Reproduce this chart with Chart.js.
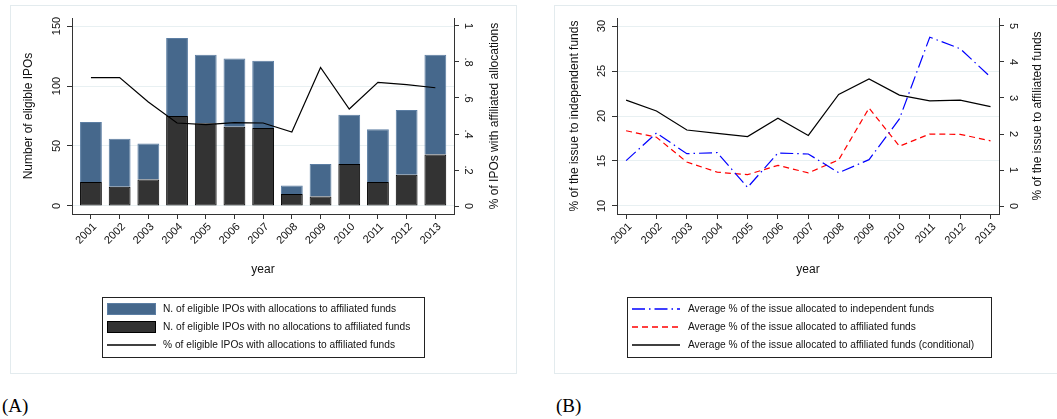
<!DOCTYPE html>
<html lang="en">
<head>
  <meta charset="UTF-8" />
  <title>Allocations of IPOs to affiliated funds</title>
  <script src="https://cdn.jsdelivr.net/npm/chart.js"></script>
  <style>
    body {
      margin: 0;
      background: #fff;
      width: 1057px;
      height: 419px;
      overflow: hidden;
      position: relative;
    }
    canvas { position: absolute; top: 0; }
    #chartA { left: 0; }
    #chartB { left: 530px; }
    .panel-tag {
      position: absolute;
      top: 395px;
      font-family: "Liberation Serif", "DejaVu Serif", serif;
      font-size: 19px;
      color: #000;
    }
  </style>
</head>
<body>
  <canvas id="chartA" width="530" height="380"></canvas>
  <canvas id="chartB" width="527" height="380"></canvas>
  <div class="panel-tag" style="left:2px">(A)</div>
  <div class="panel-tag" style="left:556px">(B)</div>

  <script>
    // data
    const years = [2001, 2002, 2003, 2004, 2005, 2006, 2007, 2008, 2009, 2010, 2011, 2012, 2013];

    // panel A
    const iposNoAlloc = [20, 16, 22, 75, 69, 66, 65, 10, 8, 35, 20, 26, 43];
    const iposWithAlloc = [50, 40, 30, 65, 57, 57, 56, 7, 27, 41, 44, 54, 83];
    const shareWithAlloc = [0.713, 0.713, 0.578, 0.461, 0.452, 0.463, 0.461, 0.411, 0.770, 0.539, 0.687, 0.674, 0.657];
    const ticksLeftA = [0, 50, 100, 150];
    const ticksRightA = [0, 0.2, 0.4, 0.6, 0.8, 1];
    const labelsRightA = ["0", ".2", ".4", ".6", ".8", "1"];

    // panel B
    const pctIndependent = [15.04, 18.11, 15.81, 15.93, 12.07, 15.89, 15.78, 13.70, 15.15, 19.67, 28.76, 27.48, 24.33];
    const pctAffiliated = [2.09, 1.91, 1.22, 0.94, 0.87, 1.13, 0.92, 1.28, 2.72, 1.66, 2.00, 1.99, 1.81];
    const pctAffiliatedCond = [2.94, 2.64, 2.11, 2.02, 1.93, 2.44, 1.96, 3.10, 3.53, 3.08, 2.92, 2.94, 2.76];
    const ticksLeftB = [10, 15, 20, 25, 30];
    const ticksRightB = [0, 1, 2, 3, 4, 5];

    const FONT = '"Liberation Sans", Arial, sans-serif';
    const AXIS = "#333";
    const GRID = "#e8f0f2";

    // line looks, shared by the plotted lines and their legend keys
    const LOOK = {
      share: { color: "#000000", dash: [] },
      indep: { color: "#0000ff", dash: [13, 4, 1.5, 4] },
      affil: { color: "#ff0000", dash: [6, 4] },
      cond: { color: "#000000", dash: [] }
    };

    const pts = vals => years.map((yr, i) => ({ x: yr, y: vals[i] }));

    function textAt(ctx, text, x, y, angle, align) {
      ctx.save();
      ctx.translate(x, y);
      ctx.rotate(angle);
      ctx.textAlign = align;
      ctx.textBaseline = "middle";
      ctx.fillText(text, 0, 0);
      ctx.restore();
    }

    // frame, rotated labels, titles and boxed legend (Stata look)
    const decor = {
      id: "decor",
      beforeDraw(chart, args, o) {
        const ctx = chart.ctx;
        ctx.save();
        ctx.fillStyle = "#fff";
        ctx.fillRect(0, 0, chart.width, chart.height);
        ctx.strokeStyle = "#e3ebee";
        ctx.lineWidth = 1;
        ctx.strokeRect(o.frame[0] + 0.5, o.frame[1] + 0.5, o.frame[2], o.frame[3]);
        ctx.restore();
      },
      afterDraw(chart, args, o) {
        const ctx = chart.ctx, s = chart.scales, ca = chart.chartArea;
        ctx.save();
        ctx.fillStyle = "#111";
        ctx.font = "11px " + FONT;
        o.leftTicks.forEach(v =>
          textAt(ctx, String(v), ca.left - 15, s.y.getPixelForValue(v), -Math.PI / 2, "center"));
        o.rightTicks.forEach((v, i) =>
          textAt(ctx, o.rightLabels[i], ca.right + 14, s.y2.getPixelForValue(v), Math.PI / 2, "center"));
        years.forEach(yr =>
          textAt(ctx, String(yr), s.x.getPixelForValue(yr) + 4, ca.bottom + 11, -Math.PI / 4, "right"));

        ctx.font = "12px " + FONT;
        const midY = (ca.top + ca.bottom) / 2;
        textAt(ctx, o.leftTitle, ca.left - o.leftTitleGap, midY, -Math.PI / 2, "center");
        textAt(ctx, o.rightTitle, ca.right + o.rightTitleGap, midY, -Math.PI / 2, "center");
        textAt(ctx, "year", (ca.left + ca.right) / 2, 270, 0, "center");

        // legend
        const L = o.legend;
        ctx.fillStyle = "#fff";
        ctx.fillRect(L.x, L.y, L.w, L.h);
        ctx.strokeStyle = "#222";
        ctx.lineWidth = 1;
        ctx.strokeRect(L.x + 0.5, L.y + 0.5, L.w, L.h);
        ctx.font = "10.2px " + FONT;
        L.order.forEach((di, row) => {
          const ds = chart.data.datasets[di];
          const y = L.rows[row];
          if (ds.look) {
            const lk = LOOK[ds.look];
            ctx.save();
            ctx.strokeStyle = lk.color;
            ctx.lineWidth = 1.4;
            ctx.setLineDash(lk.dash);
            ctx.beginPath();
            ctx.moveTo(L.s0, y);
            ctx.lineTo(L.s1, y);
            ctx.stroke();
            ctx.restore();
          } else {
            ctx.fillStyle = ds.backgroundColor;
            ctx.fillRect(L.s0, y - 6, L.s1 - L.s0, 12);
            ctx.strokeStyle = ds.borderColor;
            ctx.lineWidth = 1;
            ctx.strokeRect(L.s0 + 0.5, y - 5.5, L.s1 - L.s0 - 1, 11);
          }
          ctx.fillStyle = "#111";
          ctx.textAlign = "left";
          ctx.textBaseline = "middle";
          ctx.fillText(ds.label, L.tx, y);
        });
        ctx.restore();
      }
    };

    function lineSet(label, vals, axis, look) {
      return {
        type: "line",
        label: label,
        data: pts(vals),
        yAxisID: axis,
        look: look,
        borderColor: LOOK[look].color,
        borderDash: LOOK[look].dash,
        borderWidth: 1.2,
        pointRadius: 0,
        order: 0
      };
    }

    function axisY(pos, min, max, ticks, width, onArea) {
      return {
        type: "linear",
        position: pos,
        min: min,
        max: max,
        afterBuildTicks: sc => { sc.ticks = ticks.map(v => ({ value: v })); },
        afterFit: sc => { sc.width = width; },
        ticks: { display: false },
        grid: { color: GRID, drawOnChartArea: onArea, tickColor: AXIS, tickLength: 5 },
        border: { color: AXIS, width: 1 }
      };
    }

    function axisX(min, max) {
      return {
        type: "linear",
        min: min,
        max: max,
        offset: false,
        stacked: true,
        afterBuildTicks: sc => { sc.ticks = years.map(v => ({ value: v })); },
        afterFit: sc => { sc.height = 166; },
        ticks: { display: false },
        grid: { drawOnChartArea: false, offset: false, tickColor: AXIS, tickLength: 5 },
        border: { color: AXIS, width: 1 }
      };
    }

    new Chart(document.getElementById("chartA"), {
      type: "bar",
      data: {
        datasets: [
          {
            label: "N. of eligible IPOs with no allocations to affiliated funds",
            data: pts(iposNoAlloc),
            backgroundColor: "#333333",
            borderColor: "#000",
            borderWidth: 1,
            borderSkipped: false,
            order: 1
          },
          {
            label: "N. of eligible IPOs with allocations to affiliated funds",
            data: pts(iposWithAlloc),
            backgroundColor: "#46688c",
            borderColor: "#5c7ea3",
            borderWidth: 1,
            borderSkipped: "bottom",
            order: 2
          },
          lineSet("% of eligible IPOs with allocations to affiliated funds", shareWithAlloc, "y2", "share")
        ]
      },
      options: {
        responsive: false,
        animation: false,
        events: [],
        barPercentage: 0.76,
        categoryPercentage: 1,
        layout: { padding: { top: 18, left: 0, right: 0, bottom: 0 } },
        scales: {
          x: axisX(2000.34, 2013.65),
          y: Object.assign(axisY("left", -6.67, 156.67, ticksLeftA, 72, true), { stacked: true }),
          y2: axisY("right", -0.0444, 1.0444, ticksRightA, 76, false)
        },
        plugins: {
          legend: { display: false },
          tooltip: { enabled: false },
          decor: {
            frame: [10, 5, 506, 368],
            leftTicks: ticksLeftA,
            rightTicks: ticksRightA,
            rightLabels: labelsRightA,
            leftTitle: "Number of eligible IPOs",
            rightTitle: "% of IPOs with affiliated allocations",
            leftTitleGap: 43,
            rightTitleGap: 41,
            legend: { x: 102, y: 297, w: 322, h: 60, rows: [309, 327, 345], s0: 107, s1: 156, tx: 163, order: [1, 0, 2] }
          }
        }
      },
      plugins: [decor]
    });

    new Chart(document.getElementById("chartB"), {
      type: "line",
      data: {
        datasets: [
          lineSet("Average % of the issue allocated to independent funds", pctIndependent, "y", "indep"),
          lineSet("Average % of the issue allocated to affiliated funds", pctAffiliated, "y2", "affil"),
          lineSet("Average % of the issue allocated to affiliated funds (conditional)", pctAffiliatedCond, "y2", "cond")
        ]
      },
      options: {
        responsive: false,
        animation: false,
        events: [],
        layout: { padding: { top: 18, left: 0, right: 0, bottom: 0 } },
        scales: {
          x: axisX(2000.7, 2013.28),
          y: axisY("left", 9.11, 30.89, ticksLeftB, 87, true),
          y2: axisY("right", -0.222, 5.222, ticksRightB, 58, false)
        },
        plugins: {
          legend: { display: false },
          tooltip: { enabled: false },
          decor: {
            frame: [24, 5, 520, 368],
            leftTicks: ticksLeftB,
            rightTicks: ticksRightB,
            rightLabels: ticksRightB.map(String),
            leftTitle: "% of the issue to independent funds",
            rightTitle: "% of the issue to affiliated funds",
            leftTitleGap: 42,
            rightTitleGap: 39,
            legend: { x: 97, y: 297, w: 364, h: 60, rows: [309, 327, 345], s0: 102, s1: 150, tx: 158, order: [0, 1, 2] }
          }
        }
      },
      plugins: [decor]
    });
  </script>
</body>
</html>
